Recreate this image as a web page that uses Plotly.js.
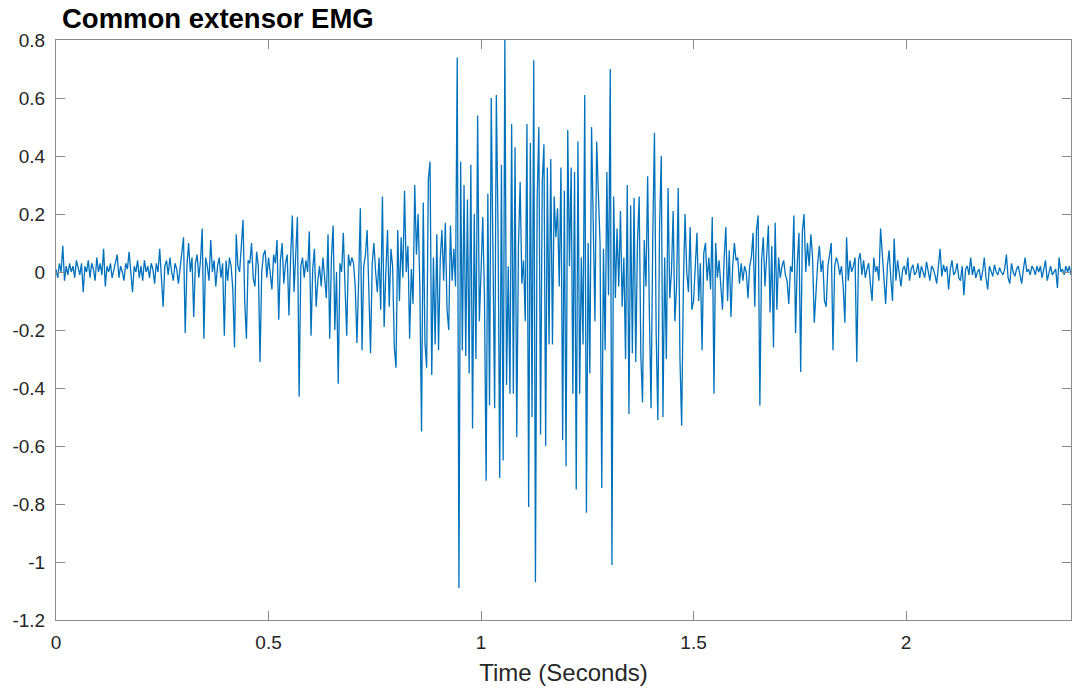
<!DOCTYPE html>
<html>
<head>
<meta charset="utf-8">
<script src="https://cdn.plot.ly/plotly-3.0.1.min.js"></script>
<style>
  html, body { margin: 0; padding: 0; background: #ffffff; }
  #chart { width: 1072px; height: 690px; }
</style>
</head>
<body>
<div id="chart"></div>
<script>
// Sampling interval of the EMG recording (seconds per sample)
const sampleInterval = 0.004;

// EMG amplitude, in 0.1-s blocks
const emgOnset = [
  0.01,-0.02,0.03,0.0,0.09,-0.03,0.02,-0.01,0.03,0.0,0.02,-0.02,0.04,0.01,-0.01,0.03,-0.07,0.02,0.0,0.04,-0.02,0.03,0.01,-0.03,0.05,
  0.0,0.03,-0.01,0.08,-0.05,0.02,0.0,0.03,-0.02,0.01,0.04,0.06,-0.02,0.02,0.0,-0.03,0.03,0.01,0.07,-0.01,-0.07,0.02,0.0,0.04,-0.02,
  0.02,-0.03,0.04,0.0,0.02,-0.02,0.03,0.01,-0.04,0.03,0.0,0.08,-0.02,-0.12,0.02,0.04,-0.01,0.05,0.0,-0.03,0.03,0.01,-0.04,0.02,0.06,
  0.12,-0.21,0.02,0.1,0.0,0.05,-0.155,0.03,0.06,-0.02,0.04,0.15,-0.23,0.05,0.02,-0.03,0.11,0.0,0.04,-0.05,0.02,0.05,-0.02,0.03,-0.22
];
const emgRise = [
  0.04,-0.03,0.05,0.02,-0.06,-0.26,0.13,0.02,0.0,0.08,0.18,-0.1,-0.23,0.04,0.03,0.1,-0.02,-0.05,0.07,0.02,-0.31,0.0,0.06,0.075,-0.02,
  0.05,-0.02,-0.06,0.06,0.03,0.11,-0.165,0.04,0.1,-0.04,0.03,0.06,-0.15,0.05,0.195,-0.07,0.08,0.19,-0.43,0.02,0.05,-0.02,0.04,0.0,0.14,
  -0.22,0.01,0.08,-0.12,-0.03,0.02,-0.05,0.05,-0.02,-0.09,0.13,-0.23,0.05,0.16,-0.2,0.0,-0.385,0.03,0.0,0.135,-0.05,-0.22,0.06,0.02,0.05,
  0.03,-0.05,-0.245,-0.03,0.22,-0.27,0.02,0.06,0.145,-0.06,-0.28,0.03,0.1,0.0,-0.07,0.05,-0.13,0.26,-0.19,0.0,0.145,-0.12,0.08,0.02,-0.26,
  -0.33,0.145,-0.1,0.12,-0.02,0.28,0.0,0.09,-0.23,0.01,-0.11,0.3,0.06,0.2,-0.05,-0.55,0.24,-0.245,-0.33,0.32,0.38,-0.355,0.05,-0.25,0.13
];
const emgBurst = [
  -0.27,0.045,0.145,-0.03,0.17,-0.13,-0.2,0.16,-0.03,0.08,-0.05,0.74,-1.09,0.38,-0.27,0.3,-0.29,0.25,-0.35,0.37,-0.54,0.2,-0.3,0.54,-0.17,
  0.0,0.19,-0.08,-0.72,0.27,-0.46,0.6,0.05,-0.47,0.61,0.15,-0.71,0.37,-0.65,0.8,-0.39,0.02,-0.42,0.51,-0.42,0.43,-0.57,0.09,0.31,-0.04,
  0.04,-0.17,0.51,-0.81,0.445,-0.5,0.73,-1.07,0.25,0.5,-0.56,0.31,0.44,-0.6,0.36,-0.25,0.39,-0.25,0.26,0.12,0.22,-0.05,0.36,-0.58,0.28,
  -0.67,0.49,0.02,0.36,-0.42,0.345,-0.75,0.45,-0.42,0.05,-0.25,0.61,-0.83,0.1,-0.35,0.5,0.2,-0.17,0.45,0.23,0.1,-0.745,0.08,-0.27,0.345,
  -0.08,0.7,-1.01,0.26,-0.09,0.15,-0.05,0.21,-0.12,0.05,-0.3,0.3,-0.49,0.23,-0.28,0.255,-0.31,0.1,0.26,-0.29,-0.45,0.11,-0.05,0.33,-0.14,
  -0.47,0.12,0.48,-0.21,-0.51,0.155,0.4,-0.5,0.05,-0.3,0.29,-0.09,0.0,0.21,-0.17,-0.05,0.29,-0.3,-0.53,-0.05,0.2,0.0,-0.07,0.155,-0.13
];
const emgDecay = [
  -0.1,0.01,0.135,-0.1,0.03,-0.27,0.065,0.1,-0.03,0.05,-0.06,0.19,-0.42,0.1,-0.02,0.04,-0.05,-0.13,0.05,0.155,-0.1,0.075,-0.155,0.02,0.1,
  0.04,0.05,-0.04,0.03,-0.03,0.02,0.0,-0.09,0.02,0.05,0.135,-0.12,0.145,0.195,-0.46,0.04,0.12,-0.05,0.06,0.16,-0.14,0.09,-0.26,0.17,-0.13,
  0.05,-0.02,0.02,0.04,-0.01,-0.03,-0.11,0.02,0.0,0.195,-0.21,0.03,0.135,-0.345,0.14,0.2,0.0,0.1,0.02,0.13,0.05,-0.175,-0.07,0.03,0.09,
  0.0,0.04,-0.1,-0.12,0.02,0.06,0.1,-0.27,0.02,0.05,0.03,-0.01,0.02,-0.05,-0.175,0.12,-0.03,0.04,0.0,0.02,0.05,-0.31,0.04,0.065,-0.01,
  0.04,-0.02,0.01,0.03,-0.04,-0.1,0.05,0.0,0.02,-0.03,0.15,0.065,-0.02,-0.11,0.02,0.075,-0.02,-0.1,0.115,-0.03,0.04,0.0,-0.05,0.01,0.02
];
const emgRest = [
  -0.01,0.05,-0.03,0.01,0.025,-0.01,0.0,0.03,-0.02,0.02,0.0,-0.02,0.035,0.0,-0.03,0.02,0.01,-0.01,-0.04,0.02,0.08,-0.015,0.025,0.0,0.02,
  -0.06,0.01,0.04,-0.01,0.0,0.03,-0.02,-0.03,0.02,-0.08,0.01,0.02,-0.01,0.05,-0.01,0.02,-0.02,0.0,0.01,-0.03,0.0,0.05,-0.02,-0.06,0.02,
  0.0,-0.015,0.025,0.0,-0.01,0.015,0.0,-0.01,0.01,0.06,-0.02,-0.04,0.03,0.0,-0.015,0.01,0.02,-0.01,-0.04,0.01,0.05,0.0,0.01,-0.01,0.02,
  0.01,-0.01,0.02,0.0,0.02,-0.02,0.01,0.04,-0.03,0.0,0.02,-0.01,0.0,0.01,-0.055,0.05,0.0,0.01,-0.01,0.02,0.0,0.02,-0.01,0.01,0.0
];

// Axis ticks
const xTickValues = [0, 0.5, 1, 1.5, 2];
const xTickLabels = ['0', '0.5', '1', '1.5', '2'];
const yTickValues = [-1.2, -1, -0.8, -0.6, -0.4, -0.2, 0, 0.2, 0.4, 0.6, 0.8];
const yTickLabels = ['-1.2', '-1', '-0.8', '-0.6', '-0.4', '-0.2', '0', '0.2', '0.4', '0.6', '0.8'];

const emg = [].concat(emgOnset, emgRise, emgBurst, emgDecay, emgRest);
const time = emg.map((_, i) => i * sampleInterval);

const fontFamily = 'Liberation Sans, Arial, Helvetica, sans-serif';
const axisColor = '#8a8a8a';
const textColor = '#262626';

const trace = {
  type: 'scatter',
  mode: 'lines',
  x: time,
  y: emg,
  line: { color: '#0072BD', width: 1.3 },
  hoverinfo: 'skip'
};

const commonAxis = {
  showgrid: false,
  zeroline: false,
  showline: true,
  linecolor: axisColor,
  linewidth: 1,
  mirror: 'ticks',
  ticks: 'inside',
  ticklen: 9,
  tickwidth: 1,
  tickcolor: axisColor,
  tickfont: { family: fontFamily, size: 19, color: textColor },
  tickmode: 'array',
  fixedrange: true
};

const layout = {
  width: 1072,
  height: 690,
  margin: { l: 56, r: 1, t: 40, b: 70, pad: 0 },
  paper_bgcolor: '#ffffff',
  plot_bgcolor: '#ffffff',
  showlegend: false,
  title: {
    text: '<b>Common extensor EMG</b>',
    font: { family: fontFamily, size: 27.5, color: '#000000' },
    xref: 'container', x: 62 / 1072, xanchor: 'left',
    yref: 'container', y: 1 - 18 / 690, yanchor: 'middle'
  },
  xaxis: Object.assign({}, commonAxis, {
    range: [0, 2.388],
    tickvals: xTickValues,
    ticktext: xTickLabels,
    ticklabelstandoff: 5,
    title: {
      text: 'Time (Seconds)',
      font: { family: fontFamily, size: 24, color: textColor },
      standoff: 12
    }
  }),
  yaxis: Object.assign({}, commonAxis, {
    range: [-1.2, 0.8],
    tickvals: yTickValues,
    ticktext: yTickLabels,
    ticklabelstandoff: 6
  })
};

Plotly.newPlot('chart', [trace], layout, { staticPlot: true, displayModeBar: false });
</script>
</body>
</html>
